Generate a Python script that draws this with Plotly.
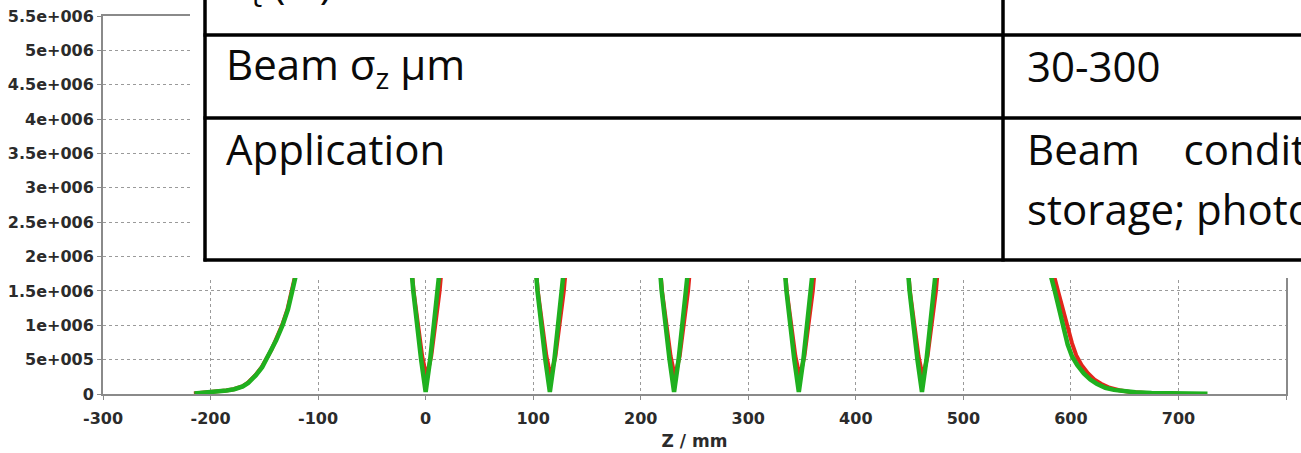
import plotly.graph_objects as go

# ---------------- data ----------------
x_ticks = [-300, -200, -100, 0, 100, 200, 300, 400, 500, 600, 700, 800]
x_tick_labels = ["-300", "-200", "-100", "0", "100", "200", "300", "400", "500", "600", "700", "800"]
y_ticks = [0, 5e5, 1e6, 1.5e6, 2e6, 2.5e6, 3e6, 3.5e6, 4e6, 4.5e6, 5e6, 5.5e6]
y_tick_labels = ["0", "5e+005", "1e+006", "1.5e+006", "2e+006", "2.5e+006", "3e+006",
                 "3.5e+006", "4e+006", "4.5e+006", "5e+006", "5.5e+006"]

green_z = [-215, -205, -195, -185, -178, -170, -165, -158, -152, -148, -143, -139, -133, -128, -124, -120, -116, -110, -100,
           -58,
           -16, -13.8, -11.5, -4.2, 0, 4.2, 11.5, 13.8, 16,
           57.7,
           99.5, 101.7, 104, 111.3, 115.5, 119.7, 127, 129.3, 131.5,
           173.2,
           215, 217.2, 219.5, 226.8, 231, 235.2, 242.5, 244.8, 247,
           289,
           331, 333.2, 335.5, 342.8, 347, 351.2, 358.5, 360.8, 363,
           404,
           445.5, 447.7, 450, 457.3, 461.5, 465.7, 473, 475.3, 477.5,
           520,
           570, 575, 578, 585, 592, 597, 601, 606, 612, 618, 624, 632, 640, 650, 660, 675, 700, 727]
green_v = [0.008e6, 0.018e6, 0.03e6, 0.05e6, 0.07e6, 0.11e6, 0.16e6, 0.27e6, 0.39e6, 0.5e6, 0.64e6, 0.78e6, 1.0e6, 1.23e6, 1.5e6, 1.75e6, 2.05e6, 2.6e6, 3.6e6,
           5.0e6,
           2.4e6, 1.92e6, 1.5e6, 0.5e6, 0.03e6, 0.5e6, 1.5e6, 1.92e6, 2.4e6,
           5.0e6,
           2.4e6, 1.92e6, 1.5e6, 0.5e6, 0.03e6, 0.5e6, 1.5e6, 1.92e6, 2.4e6,
           5.0e6,
           2.4e6, 1.92e6, 1.5e6, 0.5e6, 0.03e6, 0.5e6, 1.5e6, 1.92e6, 2.4e6,
           5.0e6,
           2.4e6, 1.92e6, 1.5e6, 0.5e6, 0.03e6, 0.5e6, 1.5e6, 1.92e6, 2.4e6,
           5.0e6,
           2.4e6, 1.92e6, 1.5e6, 0.5e6, 0.03e6, 0.5e6, 1.5e6, 1.92e6, 2.4e6,
           5.0e6,
           2.6e6, 2.2e6, 1.92e6, 1.5e6, 1.0e6, 0.72e6, 0.55e6, 0.42e6, 0.3e6, 0.21e6, 0.15e6, 0.09e6, 0.06e6, 0.038e6, 0.024e6, 0.014e6, 0.008e6, 0.005e6]

red_z = [-215.5, -205.5, -195.5, -185.5, -178.5, -170.5, -165.5, -158.5, -152.5, -148.5, -143.5, -139.5, -133.5, -128.5, -124.5, -120.5, -116.5, -110.5, -100.5,
         -58,
         -15.8, -13.5, -11.2, -3.2, 0.8, 5.2, 13, 15.4, 17.6,
         57.7,
         99.7, 102, 104.3, 112.3, 116.3, 120.7, 128.5, 130.9, 133.1,
         173.2,
         215.2, 217.5, 219.8, 227.8, 231.8, 236.2, 244, 246.4, 248.6,
         289,
         331.2, 333.5, 335.8, 343.8, 347.8, 352.2, 360, 362.4, 364.6,
         404,
         445.7, 448, 450.3, 458.3, 462.3, 466.7, 474.5, 476.9, 479.1,
         520,
         570, 576, 581, 588, 596, 601, 605, 610, 616, 622, 628, 636, 645, 655, 670, 690, 700]
red_v = [0.008e6, 0.018e6, 0.03e6, 0.05e6, 0.07e6, 0.11e6, 0.16e6, 0.27e6, 0.39e6, 0.5e6, 0.64e6, 0.78e6, 1.0e6, 1.23e6, 1.5e6, 1.75e6, 2.05e6, 2.6e6, 3.6e6,
         5.0e6,
         2.4e6, 1.92e6, 1.5e6, 0.55e6, 0.25e6, 0.55e6, 1.5e6, 1.92e6, 2.4e6,
         5.0e6,
         2.4e6, 1.92e6, 1.5e6, 0.55e6, 0.25e6, 0.55e6, 1.5e6, 1.92e6, 2.4e6,
         5.0e6,
         2.4e6, 1.92e6, 1.5e6, 0.55e6, 0.25e6, 0.55e6, 1.5e6, 1.92e6, 2.4e6,
         5.0e6,
         2.4e6, 1.92e6, 1.5e6, 0.55e6, 0.25e6, 0.55e6, 1.5e6, 1.92e6, 2.4e6,
         5.0e6,
         2.4e6, 1.92e6, 1.5e6, 0.55e6, 0.25e6, 0.55e6, 1.5e6, 1.92e6, 2.4e6,
         5.0e6,
         2.7e6, 2.3e6, 1.92e6, 1.5e6, 1.0e6, 0.74e6, 0.56e6, 0.42e6, 0.3e6, 0.21e6, 0.15e6, 0.09e6, 0.055e6, 0.03e6, 0.015e6, 0.008e6, 0.006e6]

table_left_col = ["σ<sub>t</sub> (fs)", "Beam σ<sub>z</sub> μm", "Application"]
table_right_col = ["", "30-300", "Beam\u00a0\u00a0\u00a0\u00a0conditioning\u00a0\u00a0\u00a0\u00a0for",
                   "storage; photon beam diagnostics"]

# ---------------- layout geometry ----------------
W, H = 1301, 453
ML, MR, MT, MB = 103, 15, 16, 59
PW, PH = W - ML - MR, H - MT - MB


def px(xp):
    return (xp - ML) / PW


def py(yp):
    return (H - MB - yp) / PH


fig = go.Figure()
fig.add_trace(go.Scatter(x=red_z, y=red_v, mode="lines",
                         line=dict(color="#e3261c", width=4), showlegend=False))
fig.add_trace(go.Scatter(x=green_z, y=green_v, mode="lines",
                         line=dict(color="#1fb01f", width=4.5), showlegend=False))

tick_font = dict(family="DejaVu Sans", size=16, color="#2b2b2b", weight="bold")
title_font = dict(family="DejaVu Sans", size=17, color="#2b2b2b", weight="bold")

fig.update_layout(
    width=W, height=H,
    margin=dict(l=ML, r=MR, t=MT, b=MB, autoexpand=False),
    paper_bgcolor="white", plot_bgcolor="white",
    xaxis=dict(range=[-300, 800], tickmode="array", tickvals=x_ticks, ticktext=x_tick_labels,
               showgrid=True, gridcolor="#9a9a9a", griddash="dot", gridwidth=1,
               showline=True, linecolor="#8a8a8a", linewidth=2, mirror=True,
               ticks="outside", ticklen=4, tickcolor="#8a8a8a", automargin=False,
               ticklabelstandoff=5,
               zeroline=False, tickfont=tick_font,
               title=dict(text="Z / mm", font=title_font, standoff=8)),
    yaxis=dict(range=[0, 5.5e6], tickmode="array", tickvals=y_ticks, ticktext=y_tick_labels,
               showgrid=True, gridcolor="#9a9a9a", griddash="dot", gridwidth=1,
               showline=True, linecolor="#8a8a8a", linewidth=2, mirror=True,
               ticks="outside", ticklen=4, tickcolor="#8a8a8a", automargin=False,
               zeroline=False, tickfont=tick_font),
)

# ---------------- table overlay ----------------
shapes = [
    dict(type="rect", xref="paper", yref="paper", x0=px(190), x1=px(1320), y0=py(278), y1=py(-20),
         fillcolor="white", line=dict(width=0), layer="above"),
]
for yl in [35, 118, 260]:
    shapes.append(dict(type="line", xref="paper", yref="paper", x0=px(203.5), x1=px(1320), y0=py(yl), y1=py(yl),
                       line=dict(color="black", width=3.5), layer="above"))
for xl in [205, 1003]:
    shapes.append(dict(type="line", xref="paper", yref="paper", x0=px(xl), x1=px(xl), y0=py(-20), y1=py(261.5),
                       line=dict(color="black", width=3.5), layer="above"))
fig.update_layout(shapes=shapes)

tfont = dict(family="Open Sans", size=42, color="#0a0a0a")
left_rows_y = [-15, 67, 148]
right_rows_y = [-15, 65, 148, 208]
ann = []
for t, yy in zip(table_left_col, left_rows_y):
    ann.append(dict(text=t, xref="paper", yref="paper", x=px(224), y=py(yy), xanchor="left", yanchor="middle",
                    showarrow=False, font=tfont))
for t, yy in zip(table_right_col, right_rows_y):
    if t:
        ann.append(dict(text=t, xref="paper", yref="paper", x=px(1025), y=py(yy), xanchor="left",
                        yanchor="middle", showarrow=False, font=tfont))
fig.update_layout(annotations=ann)

fig.write_html("out.html")
